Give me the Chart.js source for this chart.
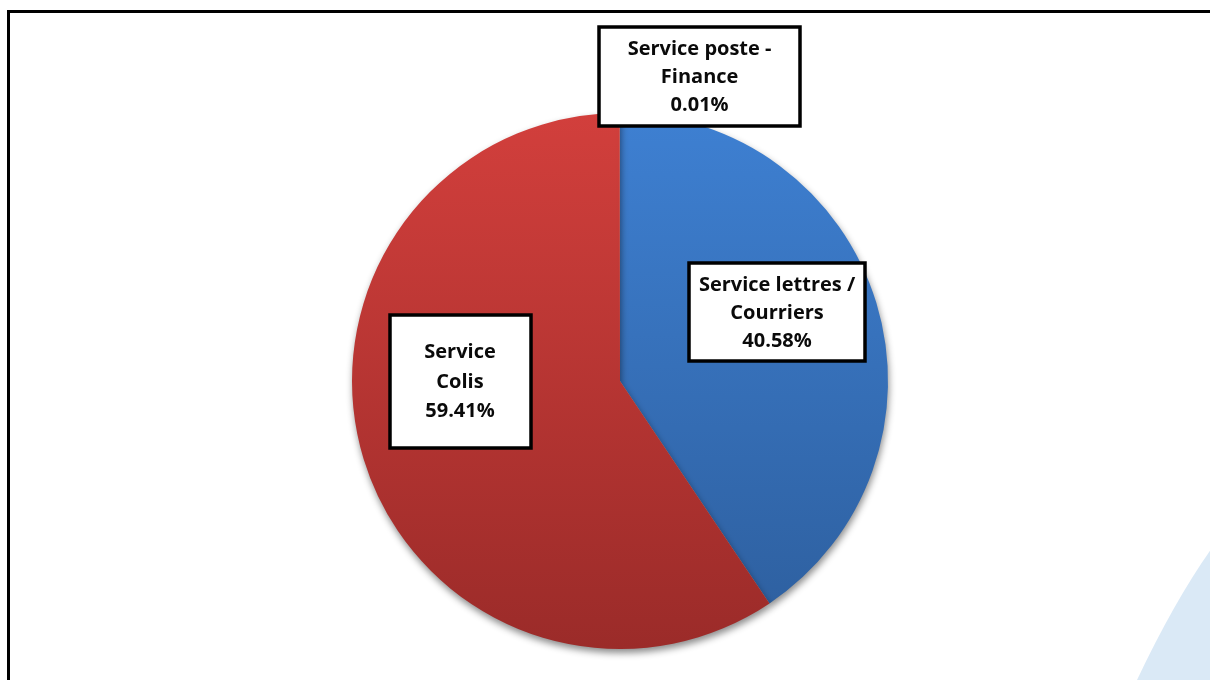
<!DOCTYPE html>
<html>
<head>
<meta charset="utf-8">
<script src="https://cdn.jsdelivr.net/npm/chart.js@4/dist/chart.umd.min.js"></script>
<style>
html,body{margin:0;padding:0;background:#fff;}
#wrap{width:1210px;height:680px;position:relative;}
</style>
</head>
<body>
<div id="wrap"><canvas id="c" width="1210" height="680"></canvas></div>
<script>
const categories = ['Service lettres / Courriers', 'Service Colis', 'Service poste - Finance'];
const labelLines = [['Service lettres /', 'Courriers'], ['Service', 'Colis'], ['Service poste -', 'Finance']];
const values = [40.58, 59.41, 0.01];
const valueLabels = ['40.58%', '59.41%', '0.01%'];

const topColors = ['#3e80d2', '#d23f3c', '#9aa7b4'];
const bottomColors = ['#2d5e9d', '#9b2b29', '#7a8794'];
// label box centers relative to pie center, in radius units; box sizes in px
const boxPos = [[0.586, -0.257, 176, 98], [-0.597, 0.0, 141, 133], [0.297, -1.138, 201, 99]];

function grad(ctx, i){
  const ch = ctx.chart; const a = ch.chartArea;
  if(!a) return topColors[i];
  const g = ch.ctx.createLinearGradient(0, a.top, 0, a.bottom);
  g.addColorStop(0, topColors[i]);
  g.addColorStop(1, bottomColors[i]);
  return g;
}

const framePlugin = {
  id: 'frame',
  beforeDraw(chart){
    const c = chart.ctx;
    c.save();
    c.fillStyle = '#fff';
    c.fillRect(0,0,chart.width,chart.height);
    c.fillStyle = '#dae9f6';
    c.beginPath();
    c.moveTo(1137, 680);
    c.quadraticCurveTo(1175, 600, 1212, 548);
    c.lineTo(1212, 680);
    c.closePath();
    c.fill();
    c.strokeStyle = '#000';
    c.lineWidth = 3;
    c.beginPath();
    c.moveTo(8.5, 682);
    c.lineTo(8.5, 11.5);
    c.lineTo(1212, 11.5);
    c.stroke();
    c.restore();
  },
  beforeDatasetsDraw(chart){
    const c = chart.ctx;
    c.save();
    c.shadowColor = 'rgba(0,0,0,0.45)';
    c.shadowBlur = 7;
    c.shadowOffsetX = 1;
    c.shadowOffsetY = 4;
  },
  afterDatasetsDraw(chart){
    chart.ctx.restore();
    const c = chart.ctx;
    const meta = chart.getDatasetMeta(0);
    const arc = meta.data[0];
    const cx = arc.x, cy = arc.y, r = arc.outerRadius;
    c.save();
    meta.data.forEach((el, i) => {
      const [fx, fy, w, h] = boxPos[i];
      const bx = cx + fx * r, by = cy + fy * r;
      const x0 = Math.round(bx - w/2), y0 = Math.round(by - h/2);
      c.fillStyle = '#fff';
      c.fillRect(x0, y0, w, h);
      c.strokeStyle = '#000';
      c.lineWidth = 3.5;
      c.strokeRect(x0, y0, w, h);
      c.fillStyle = '#0a0a0a';
      c.font = 'bold 20px "Open Sans", sans-serif';
      c.textAlign = 'center';
      c.textBaseline = 'middle';
      const lines = labelLines[i].concat([valueLabels[i]]);
      const lh = i === 1 ? 29.5 : 28;
      lines.forEach((t, k) => {
        c.fillText(t, bx, by + 1 + (k - 1) * lh);
      });
    });
    c.restore();
  }
};

new Chart(document.getElementById('c'), {
  type: 'pie',
  data: {
    labels: categories,
    datasets: [{
      data: values,
      backgroundColor: (ctx) => grad(ctx, ctx.dataIndex),
      borderWidth: 0
    }]
  },
  options: {
    responsive: false,
    animation: false,
    rotation: 0,
    layout: { padding: { top: 113, bottom: 31, left: 30, right: 0 } },
    plugins: { legend: { display: false }, tooltip: { enabled: false } }
  },
  plugins: [framePlugin]
});
</script>
</body>
</html>
